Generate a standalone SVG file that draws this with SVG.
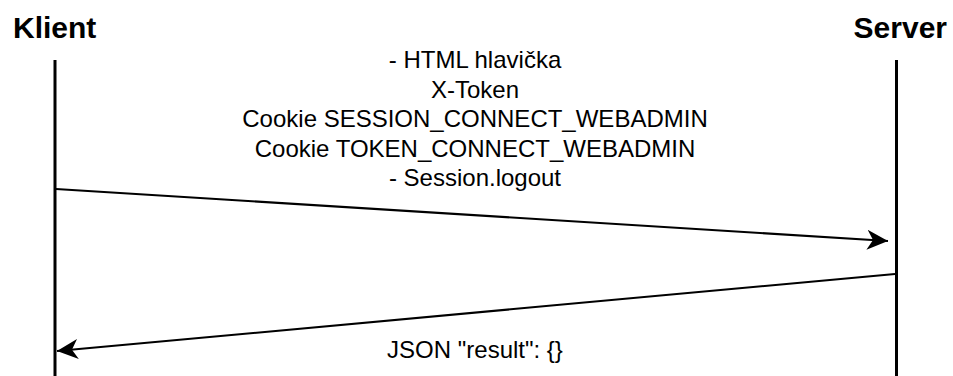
<svg xmlns="http://www.w3.org/2000/svg" width="953" height="376" viewBox="0 0 953 376">
  <style>
    .actor { font-family: "Liberation Sans", Arial, sans-serif; font-size: 30px; font-weight: bold; fill: #000; }
    .msg { font-family: "Liberation Sans", Arial, sans-serif; font-size: 24px; fill: #000; text-anchor: middle; }
    .lifeline { stroke: #000; stroke-width: 3; fill: none; }
    .call { stroke: #000; stroke-width: 2; fill: none; marker-end: url(#head); }
  </style>
  <defs>
    <marker id="head" markerUnits="userSpaceOnUse" markerWidth="24" markerHeight="22" refX="21" refY="10" orient="auto" viewBox="0 0 24 20">
      <path d="M21,10 L0,0 L6,10 L0,20 Z" fill="#000"/>
    </marker>
  </defs>
  <rect width="953" height="376" fill="#fff"/>

  <g id="klient">
    <text class="actor" x="13" y="38">Klient</text>
    <line class="lifeline" x1="55" y1="60" x2="55" y2="376"/>
  </g>

  <g id="server">
    <text class="actor" x="947" y="38" text-anchor="end">Server</text>
    <line class="lifeline" x1="896.5" y1="60" x2="896.5" y2="376"/>
  </g>

  <g id="connectors">
    <g id="request">
      <line class="call" x1="56" y1="189" x2="888" y2="241"/>
      <text class="msg" x="475" y="68">- HTML hlavička</text>
      <text class="msg" x="475" y="98">X-Token</text>
      <text class="msg" x="475" y="127">Cookie SESSION_CONNECT_WEBADMIN</text>
      <text class="msg" x="475" y="157">Cookie TOKEN_CONNECT_WEBADMIN</text>
      <text class="msg" x="475" y="186">- Session.logout</text>
    </g>
    <g id="response">
      <line class="call" x1="895" y1="274" x2="57" y2="351"/>
      <text class="msg" x="475" y="358">JSON "result": {}</text>
    </g>
  </g>
</svg>
